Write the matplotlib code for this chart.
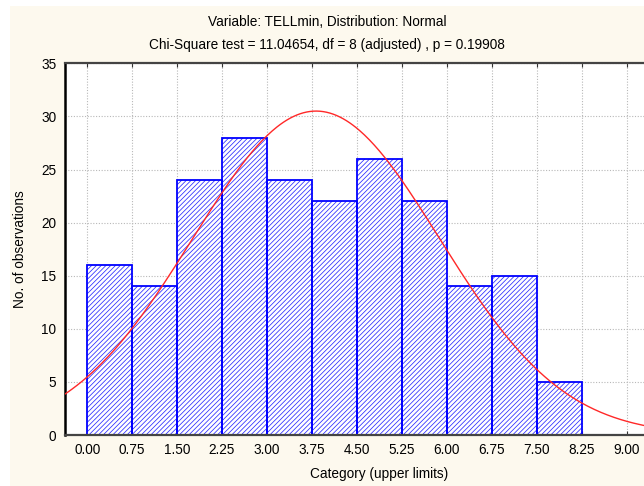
import numpy as np
import matplotlib
matplotlib.use('Agg')
import matplotlib.pyplot as plt
from matplotlib.patches import Rectangle

# histogram counts per class (class width 0.75, starting at 0.00)
upper_labels = ['0.00', '0.75', '1.50', '2.25', '3.00', '3.75', '4.50',
                '5.25', '6.00', '6.75', '7.50', '8.25', '9.00']
counts = [16, 14, 24, 28, 24, 22, 26, 22, 14, 15, 5]
bin_width = 0.75

# fitted normal curve parameters
fit_mean = 3.82
fit_sd = 2.06

plt.rcParams['font.family'] = ['Liberation Sans', 'DejaVu Sans']
plt.rcParams['hatch.linewidth'] = 0.55

cream = '#fdf9ee'
fs = 9.8
fig = plt.figure(figsize=(6.44, 4.86), dpi=100, facecolor='white')
fig.patches.append(Rectangle((10 / 644, 0), 1, 1 - 6 / 486,
                             transform=fig.transFigure, facecolor=cream,
                             edgecolor='none', zorder=-10))

ax = fig.add_axes([64.7 / 644, 1 - 435 / 486, (694 - 64.7) / 644, (435 - 63.3) / 486])
ax.set_facecolor('white')

lefts = np.arange(len(counts)) * bin_width
# hatch fill first, then crisp outlines on top
ax.bar(lefts, counts, width=bin_width, align='edge', facecolor='white',
       edgecolor='#2a2aff', linewidth=0, hatch='/' * 7, zorder=2)
ax.bar(lefts, counts, width=bin_width, align='edge', facecolor='none',
       edgecolor='#0000ff', linewidth=1.3, zorder=2.5)

xs = np.linspace(-0.5, 10.5, 400)
n = sum(counts)
ys = n * bin_width / (fit_sd * np.sqrt(2 * np.pi)) * np.exp(-0.5 * ((xs - fit_mean) / fit_sd) ** 2)
ax.plot(xs, ys, color='#ff2828', lw=1.0, zorder=3)

ticks = np.arange(len(upper_labels)) * bin_width
ax.set_xticks(ticks)
ax.set_xticklabels(upper_labels)
ax.set_xlim(-0.375, 10.125)
ax.set_ylim(0, 35)
ax.set_yticks(range(0, 36, 5))
ax.set_xticks([9.75], minor=True)
ax.grid(True, which='both', axis='x', color='#b8b8b8', linestyle=(0, (1, 1.5)), lw=0.8, zorder=0)
ax.grid(True, axis='y', color='#b8b8b8', linestyle=(0, (1, 1.5)), lw=0.8, zorder=0)
ax.set_axisbelow(True)

ax.tick_params(axis='y', length=0, labelsize=fs, pad=6)
ax.tick_params(axis='x', which='both', length=0, labelsize=fs, pad=6)
ax.tick_params(axis='x', which='both', top=True, direction='in', length=3, color='#333333')

ax.spines['left'].set_linewidth(1.8)
ax.spines['left'].set_color('black')
for s in ('top', 'bottom'):
    ax.spines[s].set_linewidth(1.6)
    ax.spines[s].set_color('#444444')

ax.set_xlabel('Category (upper limits)', fontsize=fs, labelpad=7)
ax.set_ylabel('No. of observations', fontsize=fs, labelpad=10)

fig.text(327 / 644, 1 - 22 / 486, 'Variable: TELLmin, Distribution: Normal',
         ha='center', va='center', fontsize=fs)
fig.text(327 / 644, 1 - 45 / 486, 'Chi-Square test = 11.04654, df = 8 (adjusted) , p = 0.19908',
         ha='center', va='center', fontsize=fs)

fig.savefig('out.png', dpi=100, facecolor=fig.get_facecolor())
